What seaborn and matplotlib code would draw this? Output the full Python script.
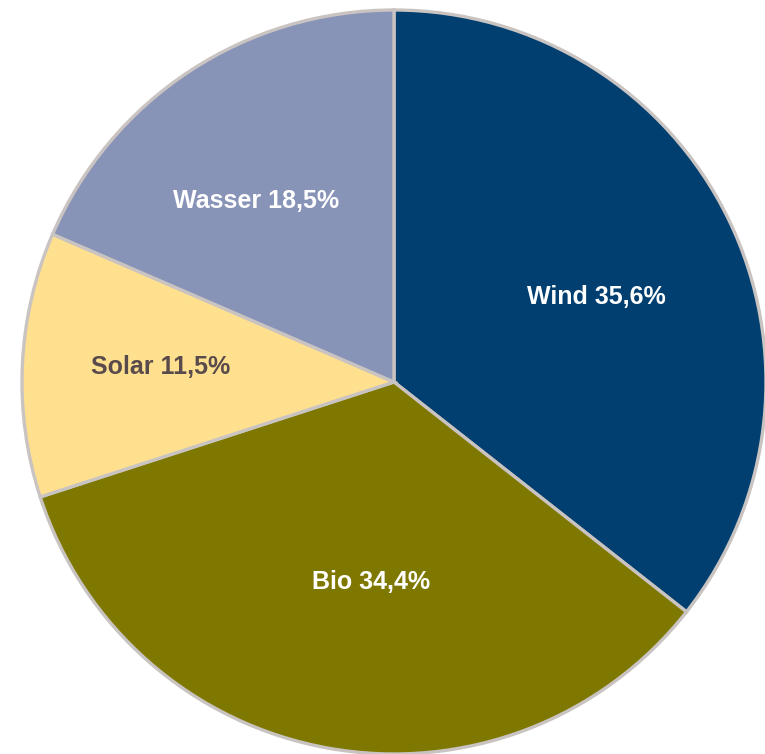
import numpy as np
import seaborn as sns
import matplotlib.pyplot as plt

# Anteile erneuerbarer Energien
sources = ['Wind', 'Bio', 'Solar', 'Wasser']
shares = [35.6, 34.4, 11.5, 18.5]
colors = ['#003F70', '#7F7800', '#FFE08F', '#8893B8']
text_colors = ['white', 'white', '#594B4B', 'white']
# Lage der Beschriftung: Abstand vom Mittelpunkt und Winkelversatz (Grad)
label_r = [0.59, 0.54, 0.63, 0.61]
label_dang = [-3.0, 3.5, -1.0, 4.0]

sns.set_theme(style='white')
plt.rcParams['font.family'] = ['Liberation Sans', 'DejaVu Sans']

fig = plt.figure(figsize=(7.65, 7.54), dpi=100)
ax = fig.add_axes([0, 0, 1, 1])

wedges, _ = ax.pie(shares, colors=colors, startangle=90, counterclock=False,
                   radius=1.0,
                   wedgeprops=dict(edgecolor='#C9C4C1', linewidth=2.4))

for w, src, val, tc, r, da in zip(wedges, sources, shares, text_colors, label_r, label_dang):
    theta = np.deg2rad((w.theta1 + w.theta2) / 2 + da)
    lbl = f'{src} {val:.1f}%'.replace('.', ',')
    ax.text(r * np.cos(theta), r * np.sin(theta), lbl, ha='center', va='center',
            fontsize=18, fontweight='bold', color=tc)

# Position des Kreises wie im Original (etwas angeschnitten)
ax.set_xlim(-394 / 372, (765 - 394) / 372)
ax.set_ylim(-(754 - 382) / 372, 382 / 372)
ax.set_aspect('auto')
ax.axis('off')

fig.savefig('out.png', dpi=100, facecolor='white')
